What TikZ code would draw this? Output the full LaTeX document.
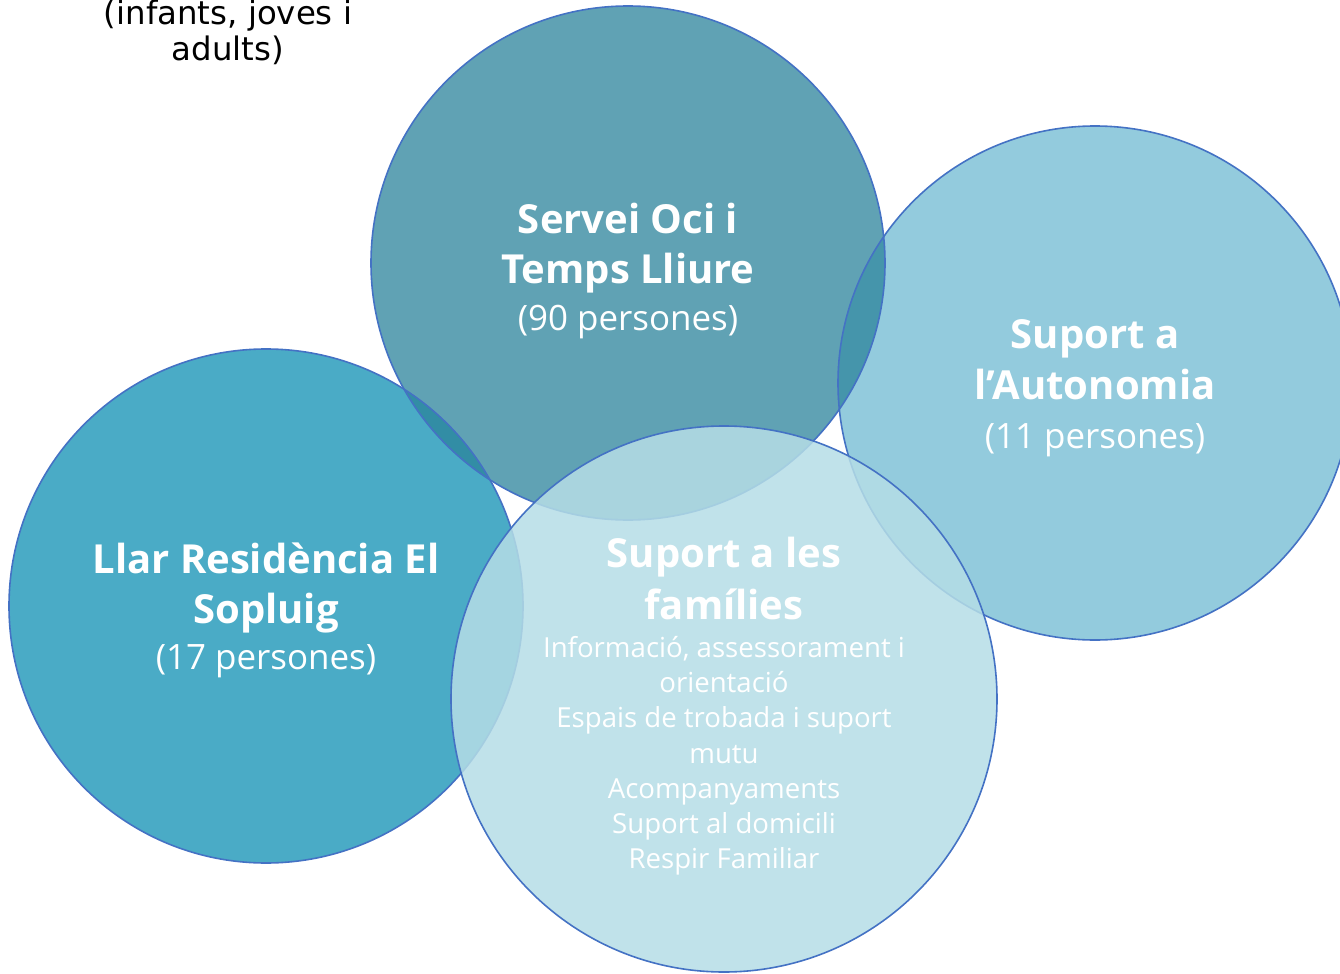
\documentclass[tikz,border=0pt]{standalone}
\usepackage{fontspec}
\setmainfont{Open Sans}
\newfontfamily\vfont{DejaVu Sans}
\definecolor{cTop}{RGB}{43,131,155}
\definecolor{cLeft}{RGB}{74,171,198}
\definecolor{cRight}{RGB}{147,203,221}
\definecolor{cBot}{RGB}{181,221,230}
\definecolor{cLine}{RGB}{68,114,196}
\tikzset{
  circ/.style={circle, inner sep=0pt, minimum size=#1},
  ttl/.style={anchor=base, text=white, font=\fontsize{30}{36}\selectfont\bfseries, inner sep=0pt},
  sub/.style={anchor=base, text=white, font=\fontsize{26.2}{31}\selectfont, inner sep=0pt},
  lst/.style={anchor=base, text=white, font=\fontsize{20.7}{25}\selectfont, inner sep=0pt},
  note/.style={anchor=base, text=black, font=\vfont\fontsize{24.3}{29}\selectfont, inner sep=0pt},
  ring/.style={draw=cLine, line width=1.2pt}
}
\begin{document}
\begin{tikzpicture}[x=0.75pt,y=-0.75pt]
\useasboundingbox (0,0) rectangle (1340,974);
% fills
\node[circ=385.5pt, fill=cLeft] (left) at (266,606) {};
\node[circ=385.5pt, fill=cRight] (right) at (1095,383) {};
\node[circ=385.5pt, fill=cTop, fill opacity=0.75] (top) at (628,263) {};
% outlines
\node[circ=385.5pt, ring] (leftR) at (left.center) {};
\node[circ=385.5pt, ring] (rightR) at (right.center) {};
\node[circ=385.5pt, ring] (topR) at (top.center) {};
% bottom circle
\node[circ=409.5pt, fill=cBot, fill opacity=0.85, ring] (bot) at (724,699) {};
% texts: top
\node[ttl] (t1) at (628,233) {Servei Oci i};
\node[ttl] (t2) at (628,283) {Temps Lliure};
\node[sub] (t3) at (628,330) {(90 persones)};
% right
\node[ttl] (r1) at (1095,348) {Suport a};
\node[ttl] (r2) at (1095,399) {l’Autonomia};
\node[sub] (r3) at (1095,448) {(11 persones)};
% left
\node[ttl] (l1) at (266,573) {Llar Residència El};
\node[ttl] (l2) at (266,623) {Sopluig};
\node[sub] (l3) at (266,669) {(17 persones)};
% bottom
\node[ttl] (b1) at (724,567) {Suport a les};
\node[ttl] (b2) at (724,619) {famílies};
\node[lst] (b3) at (724,657) {Informació, assessorament i};
\node[lst] (b4) at (724,692) {orientació};
\node[lst] (b5) at (724,727.5) {Espais de trobada i suport};
\node[lst] (b6) at (724,763) {mutu};
\node[lst] (b7) at (724,798) {Acompanyaments};
\node[lst] (b8) at (724,833) {Suport al domicili};
\node[lst] (b9) at (724,868) {Respir Familiar};
% top-left note
\node[note] (n1) at (228,25) {(infants, joves i};
\node[note] (n2) at (228,61) {adults)};
\end{tikzpicture}
\end{document}
